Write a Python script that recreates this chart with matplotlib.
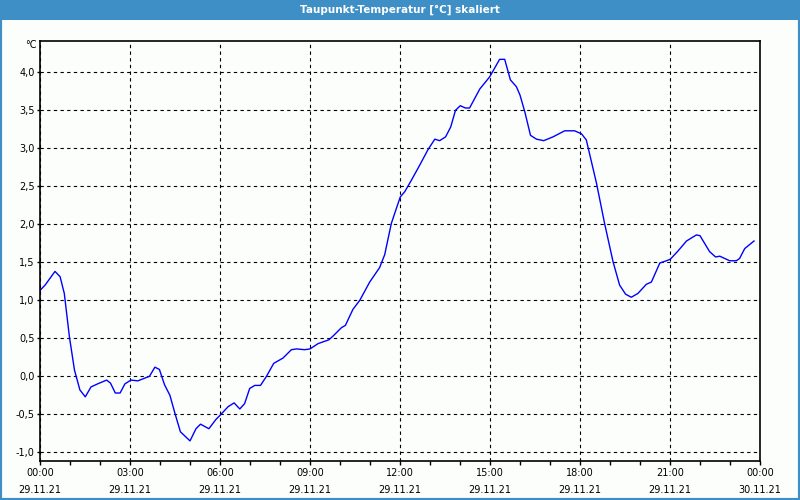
import matplotlib.pyplot as plt
from matplotlib.patches import Rectangle
from matplotlib.ticker import MultipleLocator, FuncFormatter

# hours since 29.11.21 00:00, dew point in degC
hours = [0.0, 0.17, 0.5, 0.67, 0.81, 0.98, 1.15, 1.33, 1.51, 1.70, 1.92, 2.22, 2.35,
         2.51, 2.67, 2.83, 3.03, 3.26, 3.65, 3.83, 3.98, 4.15, 4.33, 4.5, 4.68, 5.0,
         5.2, 5.35, 5.63, 5.86, 6.01, 6.27, 6.47, 6.66, 6.82, 6.99, 7.16, 7.35, 7.55,
         7.79, 8.1, 8.38, 8.55, 8.82, 9.0, 9.27, 9.63, 9.77, 10.05, 10.18, 10.43, 10.66,
         10.99, 11.32, 11.49, 11.71, 11.88, 12.01, 12.16, 12.38, 12.66, 12.93, 13.16,
         13.32, 13.52, 13.69, 13.85, 14.01, 14.18, 14.32, 14.66, 14.99, 15.32, 15.49,
         15.68, 15.88, 16.0, 16.16, 16.35, 16.55, 16.79, 17.1, 17.49, 17.82, 18.05,
         18.21, 18.55, 18.82, 19.1, 19.32, 19.52, 19.71, 19.93, 20.21, 20.38, 20.66,
         20.88, 21.01, 21.27, 21.55, 21.88, 22.0, 22.32, 22.52, 22.66, 22.99, 23.21,
         23.32, 23.49, 23.8]
dewpoint = [1.13, 1.20, 1.38, 1.31, 1.09, 0.52, 0.08, -0.18, -0.27, -0.14, -0.10, -0.05,
            -0.09, -0.22, -0.22, -0.10, -0.05, -0.06, 0.00, 0.12, 0.09, -0.11, -0.25,
            -0.49, -0.73, -0.85, -0.69, -0.63, -0.69, -0.57, -0.51, -0.40, -0.35, -0.43,
            -0.36, -0.16, -0.12, -0.12, 0.0, 0.17, 0.24, 0.35, 0.36, 0.35, 0.36, 0.43,
            0.48, 0.53, 0.64, 0.67, 0.88, 1.00, 1.24, 1.43, 1.60, 2.01, 2.21, 2.36, 2.43,
            2.58, 2.78, 2.98, 3.12, 3.10, 3.15, 3.28, 3.50, 3.56, 3.53, 3.53, 3.78, 3.94,
            4.17, 4.17, 3.90, 3.81, 3.70, 3.48, 3.17, 3.12, 3.10, 3.15, 3.23, 3.23, 3.19,
            3.11, 2.54, 2.01, 1.51, 1.20, 1.08, 1.04, 1.09, 1.21, 1.24, 1.49, 1.52, 1.54,
            1.65, 1.78, 1.86, 1.85, 1.64, 1.57, 1.58, 1.52, 1.52, 1.55, 1.68, 1.78]

tick_hours = [0, 3, 6, 9, 12, 15, 18, 21, 24]
tick_times = ['00:00', '03:00', '06:00', '09:00', '12:00', '15:00', '18:00', '21:00', '00:00']
tick_dates = ['29.11.21'] * 8 + ['30.11.21']

title = 'Taupunkt-Temperatur [°C] skaliert'
frame_blue = '#3d8fc6'

fig = plt.figure(figsize=(8, 5), dpi=100, facecolor='#fcfefc')

# window frame and title bar
fig.patches.append(Rectangle((0, 0), 1, 1, transform=fig.transFigure, fill=False,
                             edgecolor=frame_blue, linewidth=3, zorder=0))
fig.patches.append(Rectangle((0, 0.96), 1, 0.04, transform=fig.transFigure,
                             facecolor=frame_blue, edgecolor='none', zorder=0))
fig.text(0.5, 0.98, title, color='white', fontsize=7.5, fontweight='bold',
         ha='center', va='center')

ax = fig.add_axes([0.05, 0.079, 0.90, 0.84])
ax.set_facecolor('#fcfefc')
ax.plot(hours, dewpoint, color='#0000ff', linewidth=1)

ax.set_xlim(0, 24)
ax.set_ylim(-1.108, 4.418)
ax.set_xticks(tick_hours)
ax.set_xticklabels([f'{t}\n{d}' for t, d in zip(tick_times, tick_dates)])
ax.xaxis.set_minor_locator(MultipleLocator(1))
ax.yaxis.set_major_locator(MultipleLocator(0.5))
ax.yaxis.set_major_formatter(FuncFormatter(lambda v, p: f'{v:.1f}'.replace('.', ',')))

ax.tick_params(axis='x', which='both', direction='out', length=3, width=1,
               labelsize=7, pad=2.5, colors='black')
ax.tick_params(axis='y', direction='out', length=2, width=1, labelsize=7, pad=2)
for lbl in ax.get_xticklabels():
    lbl.set_linespacing(1.8)

ax.grid(True, which='major', color='black', linestyle=(0, (3, 3)), linewidth=0.8)
for s in ax.spines.values():
    s.set_linewidth(1.2)
    s.set_color('black')

fig.text(0.039, 0.91, '°C', fontsize=7, ha='center', va='center')

fig.savefig('out.png', dpi=100, facecolor=fig.get_facecolor())
